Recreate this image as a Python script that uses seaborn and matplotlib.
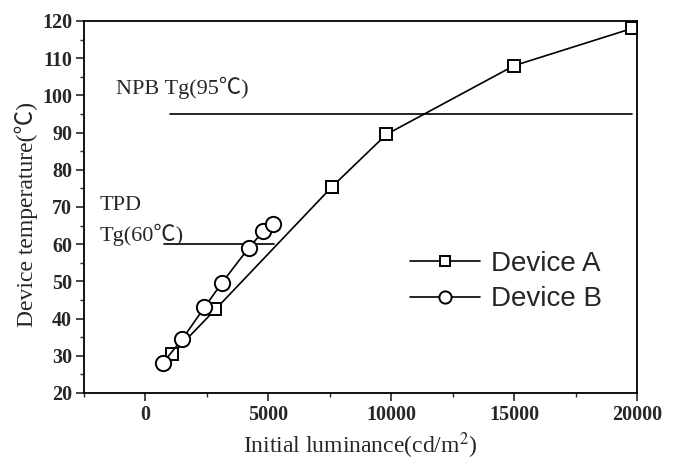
import numpy as np
import pandas as pd
import matplotlib
matplotlib.use("Agg")
import matplotlib.pyplot as plt
from matplotlib.ticker import MultipleLocator
import seaborn as sns

# values
lum_a = [1100, 2850, 7600, 9800, 15000, 19800]
temp_a = [30.5, 42.5, 75.5, 89.5, 108, 118]
lum_b = [700, 1500, 2400, 3100, 4200, 4800, 5200]
temp_b = [28, 34.5, 43, 49.5, 59, 63.5, 65.5]

npb_tg = 95
npb_span = [1000, 19800]
tpd_tg = 60
tpd_span = [750, 5250]

x_ticks = [0, 5000, 10000, 15000, 20000]
y_ticks = [20, 30, 40, 50, 60, 70, 80, 90, 100, 110, 120]

sns.set_style("ticks")
plt.rcParams['font.family'] = ['Liberation Serif', 'Noto Sans CJK SC']
plt.rcParams['mathtext.fontset'] = 'stix'

df_a = pd.DataFrame({"lum": lum_a, "temp": temp_a})
df_b = pd.DataFrame({"lum": lum_b, "temp": temp_b})

fig = plt.figure(figsize=(6.79, 4.62), dpi=100)
ax = fig.add_axes([84 / 679, 1 - 393 / 462, 553 / 679, 372 / 462])

# Tg reference lines
ax.plot(npb_span, [npb_tg, npb_tg], color="black", lw=1.2)
ax.plot(tpd_span, [tpd_tg, tpd_tg], color="black", lw=1.2)

sns.lineplot(data=df_a, x="lum", y="temp", ax=ax, sort=False, color="black",
             lw=1.2, marker="s", markersize=9, markerfacecolor="white",
             markeredgecolor="black", markeredgewidth=1.4, label="Device A")
sns.lineplot(data=df_b, x="lum", y="temp", ax=ax, sort=False, color="black",
             lw=1.2, marker="o", markersize=11, markerfacecolor="white",
             markeredgecolor="black", markeredgewidth=1.4, label="Device B")

ax.text(-1200, 102, "NPB Tg(95℃)", fontsize=16, va="center", ha="left")
ax.text(-1850, 70.5, "TPD", fontsize=16, va="center", ha="left")
ax.text(-1850, 62.5, "Tg(60℃)", fontsize=16, va="center", ha="left")

ax.set_xlim(-2500, 20000)
ax.set_ylim(20, 120)
ax.set_xticks(x_ticks)
ax.set_yticks(y_ticks)
ax.xaxis.set_minor_locator(MultipleLocator(2500))
ax.yaxis.set_minor_locator(MultipleLocator(5))
ax.tick_params(which="major", direction="out", length=5.5, width=1.2,
               top=False, right=False, labelsize=14.5, pad=3)
ax.tick_params(which="minor", direction="out", length=3, width=1.0,
               top=False, right=False)
for lab in ax.get_xticklabels() + ax.get_yticklabels():
    lab.set_fontweight("bold")

for side in ["left", "right", "top", "bottom"]:
    ax.spines[side].set_visible(True)
    ax.spines[side].set_linewidth(1.3)
    ax.spines[side].set_color("black")

ax.set_xlabel("Initial luminance(cd/m$^2$)", fontsize=17, labelpad=4)
ax.set_ylabel("Device temperature(℃)", fontsize=17)
ax.yaxis.set_label_coords(-0.083, 0.48)

leg = ax.legend(loc="center", bbox_to_anchor=(0.763, 0.3), frameon=False,
                prop={"family": "Liberation Sans", "size": 20},
                handlelength=2.5, handletextpad=0.4, labelspacing=0.35,
                markerscale=0.8)

fig.savefig("out.png", dpi=100)
